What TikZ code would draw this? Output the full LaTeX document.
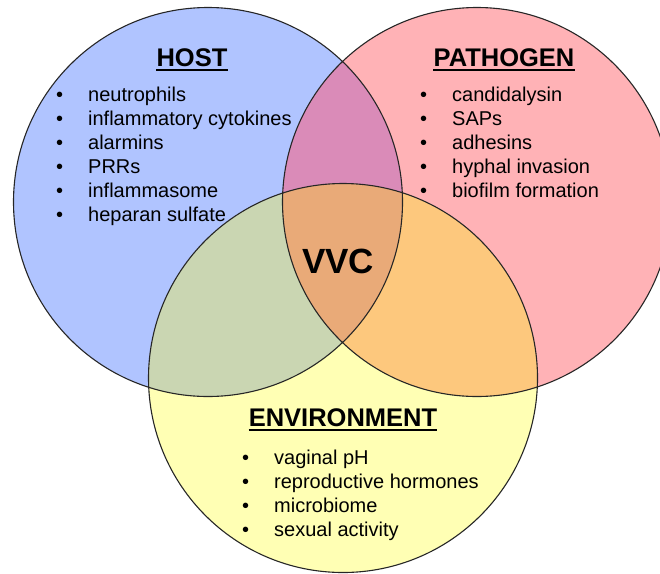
\documentclass[tikz,border=0pt]{standalone}
\usepackage{fontspec}
\setmainfont{Liberation Sans}
\definecolor{hostc}{HTML}{B0C4FF}
\definecolor{pathc}{HTML}{FFB2B6}
\definecolor{envc}{HTML}{FFFFB4}
\definecolor{hpc}{HTML}{DA8BB8}
\definecolor{hec}{HTML}{CAD6B2}
\definecolor{pec}{HTML}{FDC87D}
\definecolor{allc}{HTML}{E9AA78}
\newcommand{\bul}{\makebox[32pt][l]{•}}
\begin{document}
\begin{tikzpicture}[x=1pt,y=-1pt,
  title/.style={font=\fontsize{25.5}{30}\selectfont\bfseries, inner sep=0pt, anchor=base},
  item/.style={font=\fontsize{20}{24}\selectfont, inner sep=0pt, anchor=base west},
  uline/.style={line width=1.6pt},
  ring/.style={line width=1.1pt, draw=black!85}]
\useasboundingbox (0,0) rectangle (660,573);
\coordinate (H) at (208,202);
\coordinate (P) at (477,202);
\coordinate (E) at (343,378);
\def\R{194.5pt}
% base fills
\fill[hostc] (H) circle[radius=\R];
\fill[pathc] (P) circle[radius=\R];
\fill[envc] (E) circle[radius=\R];
% pairwise overlaps
\begin{scope}\clip (H) circle[radius=\R]; \fill[hpc] (P) circle[radius=\R];\end{scope}
\begin{scope}\clip (H) circle[radius=\R]; \fill[hec] (E) circle[radius=\R];\end{scope}
\begin{scope}\clip (P) circle[radius=\R]; \fill[pec] (E) circle[radius=\R];\end{scope}
\begin{scope}\clip (H) circle[radius=\R]; \clip (P) circle[radius=\R]; \fill[allc] (E) circle[radius=\R];\end{scope}
% outlines
\draw[ring] (H) circle[radius=\R];
\draw[ring] (P) circle[radius=\R];
\draw[ring] (E) circle[radius=\R];
% titles
\node[title] (host) at (192,66) {HOST};
\draw[uline] ([yshift=-4pt]host.base west) -- ([yshift=-4pt]host.base east);
\node[title] (path) at (504,66) {PATHOGEN};
\draw[uline] ([yshift=-4pt]path.base west) -- ([yshift=-4pt]path.base east);
\node[title] (env) at (343,426) {ENVIRONMENT};
\draw[uline] ([yshift=-4pt]env.base west) -- ([yshift=-4pt]env.base east);
\node[font=\fontsize{35}{40}\selectfont\bfseries, inner sep=0pt, anchor=base] (vvc) at (338,273) {VVC};
% lists
\foreach \t [count=\i] in {neutrophils, inflammatory cytokines, alarmins, PRRs, inflammasome, heparan sulfate}
  \node[item] (h\i) at (56,77+24*\i) {\bul\t};
\foreach \t [count=\i] in {candidalysin, SAPs, adhesins, hyphal invasion, biofilm formation}
  \node[item] (p\i) at (420,77+24*\i) {\bul\t};
\foreach \t [count=\i] in {vaginal pH, reproductive hormones, microbiome, sexual activity}
  \node[item] (e\i) at (242,440+24*\i) {\bul\t};
\end{tikzpicture}
\end{document}
